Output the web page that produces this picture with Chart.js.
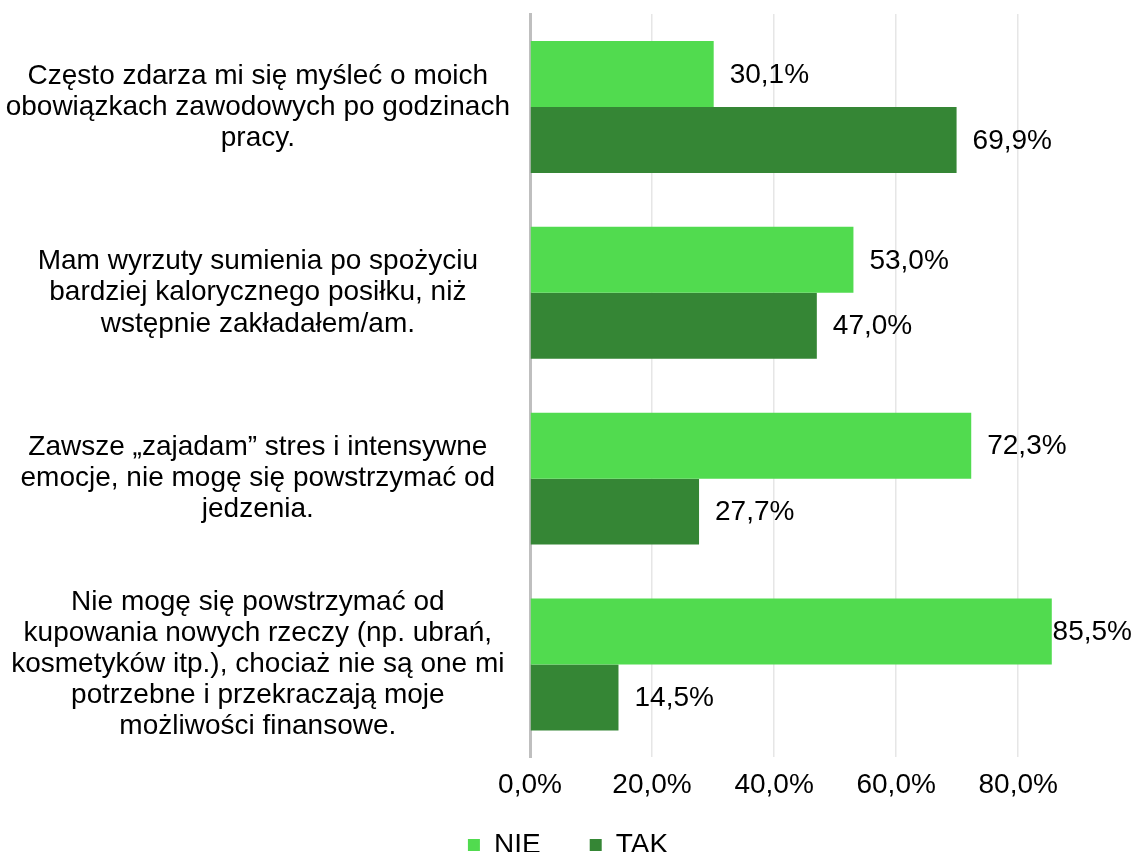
<!DOCTYPE html>
<html>
<head>
<meta charset="utf-8">
<script src="https://cdn.jsdelivr.net/npm/chart.js@4"></script>
<style>
  html, body { margin: 0; padding: 0; background: #fff; overflow: hidden; }
  #wrap { width: 1136px; height: 869px; position: relative; }
</style>
</head>
<body>
<div id="wrap"><canvas id="surveyChart"></canvas></div>
<script>
const categories = [
    ['Często zdarza mi się myśleć o moich', 'obowiązkach zawodowych po godzinach', 'pracy.'],
    ['Mam wyrzuty sumienia po spożyciu', 'bardziej kalorycznego posiłku, niż', 'wstępnie zakładałem/am.'],
    ['Zawsze „zajadam” stres i intensywne', 'emocje, nie mogę się powstrzymać od', 'jedzenia.'],
    ['Nie mogę się powstrzymać od', 'kupowania nowych rzeczy (np. ubrań,', 'kosmetyków itp.), chociaż nie są one mi', 'potrzebne i przekraczają moje', 'możliwości finansowe.']
]
const nieValues = [30.1, 53.0, 72.3, 85.5]
const takValues = [69.9, 47.0, 27.7, 14.5]
const xTicks = [0, 20, 40, 60, 80]

const fontFamily = '"Liberation Sans", Arial, sans-serif'
const fmt = v => v.toFixed(1).replace('.', ',') + '%'

// etykiety z wartościami na końcu słupków
const valueLabels = {
    id: 'valueLabels',
    afterDatasetsDraw(chart) {
        const ctx = chart.ctx
        ctx.save()
        ctx.font = '28px ' + fontFamily
        ctx.fillStyle = '#000'
        ctx.textBaseline = 'middle'
        chart.data.datasets.forEach((ds, i) => {
            chart.getDatasetMeta(i).data.forEach((bar, j) => {
                const txt = fmt(ds.data[j])
                const w = ctx.measureText(txt).width
                let x = bar.x + 16
                if (x + w > chart.width - 4) x = chart.width - 4 - w
                ctx.fillText(txt, x, bar.y + 1)
            })
        })
        ctx.restore()
    }
}

const data = {
    labels: categories,
    datasets: [
        { label: 'NIE', data: nieValues, backgroundColor: '#51DB4F' },
        { label: 'TAK', data: takValues, backgroundColor: '#358635' }
    ]
}

const options = {
    indexAxis: 'y',
    responsive: true,
    maintainAspectRatio: false,
    animation: false,
    layout: { padding: { top: 14, left: 0, right: 0, bottom: 0 } },
    datasets: { bar: { categoryPercentage: 0.71, barPercentage: 1.0 } },
    scales: {
        x: {
            min: 0,
            max: 99.3,
            afterBuildTicks: s => { s.ticks = xTicks.map(v => ({ value: v })) },
            afterFit: s => { s.paddingLeft = 0; s.paddingRight = 0 },
            grid: {
                color: ctx => ctx.tick && ctx.tick.value === 0 ? 'rgba(0,0,0,0)' : '#e6e6e6',
                lineWidth: 1.5,
                drawTicks: false
            },
            border: { display: false },
            ticks: {
                color: '#000',
                padding: 11,
                font: { size: 28, family: fontFamily },
                callback: v => fmt(v)
            }
        },
        y: {
            grid: { color: 'rgba(0,0,0,0)', drawTicks: false },
            border: { display: true, color: '#bfbfbf', width: 3 },
            afterFit: s => { s.width = 530; s.paddingTop = 0; s.paddingBottom = 0 },
            ticks: {
                color: '#000',
                padding: 20,
                autoSkip: false,
                crossAlign: 'center',
                font: { size: 28, family: fontFamily, lineHeight: 1.11 }
            }
        }
    },
    plugins: {
        legend: {
            position: 'bottom',
            labels: {
                color: '#000',
                boxWidth: 12,
                boxHeight: 12,
                padding: 18,
                font: { size: 28, family: fontFamily },
                // odstęp między pozycjami legendy
                generateLabels: chart => {
                    const items = Chart.defaults.plugins.legend.labels.generateLabels(chart)
                    items[0].text = items[0].text + '    '
                    return items
                }
            }
        },
        tooltip: { enabled: false }
    }
}

new Chart('surveyChart', { type: 'bar', data, options, plugins: [valueLabels] })
</script>
</body>
</html>
